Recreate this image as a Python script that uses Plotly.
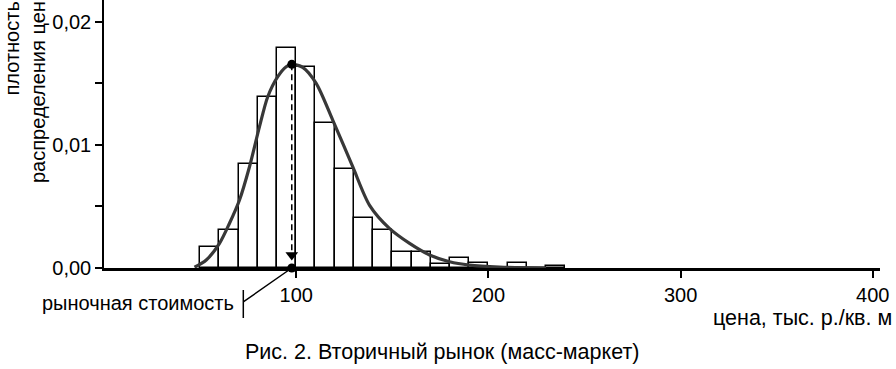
import plotly.graph_objects as go

# ---- data ----
bin_left = [50, 60, 70, 80, 90, 100, 110, 120, 130, 140, 150, 160, 170, 180, 190, 200, 210, 220, 230]
bin_density = [0.00168, 0.00308, 0.00842, 0.0139, 0.01783, 0.01634, 0.01175, 0.00801, 0.00402,
               0.00312, 0.00132, 0.00127, 0.0003, 0.00079, 0.00043, 0.0, 0.00043, 0.0, 0.0002]
bin_width = 10

curve_x = [47.1, 53.2, 60.1, 65.3, 70.5, 75.7, 80.9, 85.2, 90.4, 94.8, 97.7, 103.4, 110.4,
           119.0, 129.4, 138.1, 148.5, 159.0, 169.4, 179.8, 190.1, 205.8, 230.0]
curve_y = [0.00006, 0.00065, 0.002, 0.00363, 0.00552, 0.00822, 0.01147, 0.0139, 0.01553,
           0.01634, 0.01653, 0.01629, 0.01499, 0.01201, 0.00822, 0.00511, 0.00322, 0.002,
           0.00106, 0.00051, 0.00024, 0.00008, 0.0]

market_value = 97.7
peak_density = 0.01653

x_tick_vals = [100, 200, 300, 400]
x_tick_text = ["100", "200", "300", "400"]
y_tick_vals = [0.0, 0.01, 0.02]
y_tick_text = ["0,00", "0,01", "0,02"]
y_minor_vals = [0.005, 0.015]

title_y = "плотность<br>распределения цен"
title_x = "цена, тыс. р./кв. м"
label_mv = "рыночная стоимость"
caption = "Рис. 2. Вторичный рынок (масс-маркет)"

# ---- layout geometry ----
W, H = 896, 369
ML, MR, MT, MB = 104, 16, 0, 101
PW = W - ML - MR
PH = H - MT - MB

def px_x(p):
    return (p - ML) / PW

def px_y(p):
    return (MT + PH - p) / PH

FONT = "Liberation Sans, Arial, Helvetica, sans-serif"

fig = go.Figure()

fig.add_trace(go.Bar(
    x=[b + bin_width / 2 for b in bin_left], y=bin_density, width=bin_width,
    marker=dict(color="white", line=dict(color="black", width=1.5)),
    showlegend=False, hoverinfo="skip"))

fig.add_trace(go.Scatter(
    x=curve_x, y=curve_y, mode="lines",
    line=dict(color="#383838", width=3.2, shape="spline", smoothing=0.8),
    showlegend=False, hoverinfo="skip"))

# dashed drop line from the mode to the axis
fig.add_trace(go.Scatter(
    x=[market_value, market_value], y=[peak_density, 0.0012], mode="lines",
    line=dict(color="black", width=1.5, dash="6px,4px"),
    showlegend=False, hoverinfo="skip"))
fig.add_trace(go.Scatter(
    x=[market_value], y=[0.00105], mode="markers",
    marker=dict(symbol="triangle-down", size=11, color="black"),
    showlegend=False, hoverinfo="skip", cliponaxis=False))
fig.add_trace(go.Scatter(
    x=[market_value, market_value], y=[peak_density, 0.0], mode="markers",
    marker=dict(symbol="circle", size=9, color="black"),
    showlegend=False, hoverinfo="skip", cliponaxis=False))

fig.update_layout(
    width=W, height=H,
    margin=dict(l=ML, r=MR, t=MT, b=MB),
    paper_bgcolor="white", plot_bgcolor="white",
    bargap=0,
    font=dict(family=FONT, size=20, color="black"),
    xaxis=dict(
        range=[0, PW / 1.922], showgrid=False, zeroline=False,
        showline=True, linecolor="black", linewidth=3,
        tickvals=x_tick_vals, ticktext=x_tick_text,
        ticks="outside", ticklen=7, tickwidth=1.5, tickcolor="black",
        tickfont=dict(family=FONT, size=20, color="black"),
    ),
    yaxis=dict(
        range=[0, PH / 12320], showgrid=False, zeroline=False,
        showline=True, linecolor="black", linewidth=1.5,
        tickvals=y_tick_vals, ticktext=y_tick_text,
        ticks="outside", ticklen=7, tickwidth=1.5, tickcolor="black",
        tickfont=dict(family=FONT, size=20, color="black"),
        minor=dict(tickvals=y_minor_vals, ticks="outside", ticklen=7,
                   tickwidth=1.5, tickcolor="black"),
    ),
)

fig.add_annotation(text=title_y, textangle=-90, align="right",
                   xref="paper", yref="paper", x=px_x(25), y=px_y(-1),
                   xanchor="center", yanchor="top", showarrow=False,
                   font=dict(family=FONT, size=20, color="black"))
fig.add_annotation(text=title_x, xref="paper", yref="paper",
                   x=px_x(894), y=px_y(318), xanchor="right", yanchor="middle",
                   showarrow=False, font=dict(family=FONT, size=21.5, color="black"))
fig.add_annotation(text=caption, xref="paper", yref="paper",
                   x=px_x(441.5), y=px_y(352), xanchor="center", yanchor="middle",
                   showarrow=False, font=dict(family=FONT, size=21.5, color="black"))
fig.add_annotation(text=label_mv, xref="paper", yref="paper",
                   x=px_x(236), y=px_y(303), xanchor="right", yanchor="middle",
                   showarrow=False, font=dict(family=FONT, size=20, color="black"))
# pointer from the label to the market value point
fig.add_annotation(text="", x=market_value, y=0, xref="x", yref="y",
                   ax=-50, ay=35, showarrow=True, arrowhead=0,
                   arrowwidth=1.5, arrowcolor="black", standoff=0)
fig.add_shape(type="line", xref="paper", yref="paper",
              x0=px_x(243.3), x1=px_x(243.3), y0=px_y(290), y1=px_y(318),
              line=dict(color="black", width=1.5))

fig.write_html("out.html", config={"displayModeBar": False},
               post_script="document.body.style.margin='0';document.body.style.overflow='hidden';")
